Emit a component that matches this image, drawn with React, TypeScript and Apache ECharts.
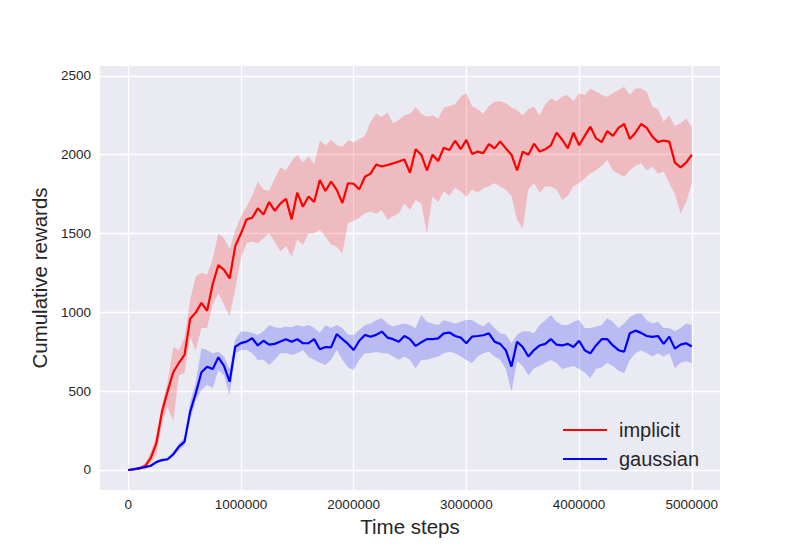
import React, { useEffect, useRef } from "react";
import * as echarts from "echarts";

const STEP = 50000;
const xTicks = [0, 1000000, 2000000, 3000000, 4000000, 5000000];
const yTicks = [0, 500, 1000, 1500, 2000, 2500];

const redMean = [
  0, 3, 10, 25, 75, 170, 370, 500, 620, 680,
  730, 960, 1000, 1060, 1010, 1180, 1300, 1270, 1215, 1420,
  1500, 1590, 1600, 1660, 1620, 1700, 1645, 1690, 1720, 1590,
  1760, 1670, 1735, 1700, 1840, 1770, 1830, 1777, 1694, 1819,
  1816, 1780, 1860, 1880, 1938, 1925, 1935, 1945, 1957, 1970,
  1885, 2035, 2000, 1900, 2000, 1960, 2045, 2030, 2089, 2035,
  2094, 2005, 2020, 2010, 2068, 2040, 2085, 2040, 2000, 1900,
  2020, 2000, 2070, 2020, 2035, 2060, 2140, 2095, 2040, 2140,
  2060, 2120, 2178, 2104, 2080, 2150, 2120, 2170, 2195, 2100,
  2140, 2195, 2170, 2115, 2080, 2090, 2083, 1950, 1920, 1950,
  2000,
];
const redHi = [
  0, 8, 20, 45, 110, 220, 410, 560, 780, 760,
  840, 1080, 1230, 1250, 1240, 1340, 1500, 1470, 1400, 1520,
  1610, 1670, 1740, 1830, 1780, 1770, 1850, 1920, 1900, 1960,
  2000, 1950, 1990, 1940, 2090, 2060, 2095, 2060, 2050, 2090,
  2080, 2100, 2120, 2210, 2260, 2240, 2270, 2200, 2220, 2250,
  2260, 2305, 2260, 2240, 2250, 2230, 2300, 2310, 2320, 2368,
  2390, 2310, 2290, 2260, 2310, 2336, 2340, 2326, 2300, 2284,
  2250, 2290, 2305, 2250, 2320, 2357, 2340, 2370, 2378, 2340,
  2390, 2380, 2421, 2400, 2380, 2368, 2390, 2410, 2432, 2380,
  2421, 2421, 2400, 2305, 2290, 2210, 2250, 2180, 2200, 2230,
  2178,
];
const redLo = [
  0, 0, 2, 8, 45, 100, 298, 400, 310, 600,
  615, 843, 760, 900, 900, 1050, 1121, 1050, 973, 1150,
  1343, 1439, 1450, 1439, 1470, 1502, 1450, 1386, 1420, 1354,
  1460, 1428, 1500, 1502, 1523, 1480, 1430, 1417, 1375, 1565,
  1580, 1600, 1628, 1640, 1628, 1650, 1586, 1610, 1628, 1690,
  1650, 1713, 1690, 1502, 1734, 1700, 1766, 1740, 1790, 1766,
  1734, 1780, 1760, 1787, 1800, 1819, 1798, 1777, 1740, 1586,
  1533, 1780, 1819, 1760, 1798, 1798, 1780, 1713, 1740, 1800,
  1819, 1850, 1883, 1900, 1930, 1967, 1900, 1880, 1861, 1900,
  1930, 1946, 1900, 1925, 1880, 1893, 1820, 1750, 1628, 1700,
  1819,
];
const blueMean = [
  0, 5, 12, 18, 27, 50, 63, 68, 100, 148,
  180, 370, 488, 620, 655, 640, 715, 660, 560, 782,
  805, 814, 836, 790, 820, 795, 800, 815, 830, 814,
  830, 804, 805, 830, 766, 780, 778, 862, 830, 800,
  761, 820, 857, 845, 857, 878, 840, 830, 814, 850,
  830, 787, 810, 830, 830, 835, 867, 872, 850, 840,
  804, 846, 850, 855, 867, 814, 800, 760, 656, 814,
  780, 720, 761, 790, 800, 830, 795, 790, 800, 780,
  820, 760, 740, 790, 830, 830, 790, 760, 750, 867,
  884, 870, 850, 845, 850, 800, 846, 770, 795, 804,
  783,
];
const blueHi = [
  0, 7, 15, 22, 33, 58, 72, 78, 115, 170,
  205, 430, 560, 772, 760, 740, 750, 720, 640, 830,
  878, 878, 870, 857, 880, 920, 905, 900, 910, 905,
  920, 910, 920, 900, 870, 920, 900, 920, 900, 860,
  857, 890, 920, 930, 950, 962, 930, 910, 920, 930,
  920, 900, 983, 940, 930, 920, 950, 940, 930, 940,
  952, 952, 930, 910, 940, 900, 867, 860, 804, 860,
  880, 880, 867, 920, 950, 983, 940, 920, 920, 940,
  952, 900, 900, 910, 920, 962, 940, 900, 930, 970,
  990, 994, 950, 930, 940, 900, 900, 880, 900, 930,
  920,
];
const blueLo = [
  0, 3, 9, 14, 21, 42, 54, 58, 85, 126,
  155, 320, 444, 508, 540, 518, 635, 600, 476, 740,
  761, 761, 740, 698, 700, 666, 700, 740, 740, 730,
  740, 761, 719, 700, 680, 666, 700, 761, 700, 650,
  635, 700, 740, 740, 750, 740, 740, 720, 700, 720,
  700, 645, 698, 700, 710, 720, 740, 750, 740, 720,
  698, 677, 720, 740, 750, 720, 700, 640, 497, 690,
  660, 600, 645, 660, 680, 698, 680, 640, 650, 660,
  640, 620, 582, 640, 650, 680, 660, 630, 613, 700,
  740, 760, 740, 720, 740, 720, 740, 645, 680, 690,
  677,
];

const steps = redMean.map((_, i) => i * STEP);
const pairs = (arr: number[]) => arr.map((v, i) => [steps[i], v]);

const TEXT = "#262626";
const FONT = "'Liberation Sans', Arial, sans-serif";

function bandSeries(name: string, lo: number[], hi: number[], color: string) {
  const data = steps.map((t, i) => [t, lo[i], hi[i]]);
  return {
    name,
    type: "custom",
    silent: true,
    clip: true,
    data,
    encode: { x: 0, y: [1, 2] },
    z: 1,
    renderItem: (params: any, api: any) => {
      if (params.dataIndex !== 0) return null;
      const upper = data.map((d) => api.coord([d[0], d[2]]));
      const lower = data.map((d) => api.coord([d[0], d[1]])).reverse();
      return {
        type: "polygon",
        shape: { points: upper.concat(lower) },
        style: { fill: color, stroke: "none" },
      };
    },
  };
}

export default function App() {
  const ref = useRef<HTMLDivElement>(null);
  useEffect(() => {
    document.body.style.margin = "0";
    const chart = echarts.init(ref.current!, null, { renderer: "svg" });
    chart.setOption({
      animation: false,
      backgroundColor: "#ffffff",
      textStyle: { fontFamily: FONT },
      grid: { left: 100, right: 80, top: 66, bottom: 60, show: true, backgroundColor: "#EAEAF2", borderWidth: 0 },
      xAxis: {
        type: "value",
        min: -250000,
        max: 5250000,
        name: "Time steps",
        nameLocation: "middle",
        nameGap: 24,
        nameTextStyle: { fontSize: 20.5, color: TEXT, verticalAlign: "top" },
        axisLine: { show: false },
        axisTick: { show: false, customValues: xTicks },
        axisLabel: { customValues: xTicks, fontSize: 13.5, color: TEXT, margin: 7, formatter: (v: number) => String(v) },
        splitLine: { show: true, lineStyle: { color: "#ffffff", width: 1.3 } },
      },
      yAxis: {
        type: "value",
        min: -127,
        max: 2563,
        name: "Cumulative rewards",
        nameLocation: "middle",
        nameGap: 48,
        nameTextStyle: { fontSize: 20.5, color: TEXT },
        axisLine: { show: false },
        axisTick: { show: false, customValues: yTicks },
        axisLabel: { customValues: yTicks, fontSize: 13.5, color: TEXT, margin: 9, formatter: (v: number) => String(v) },
        splitLine: { show: true, lineStyle: { color: "#ffffff", width: 1.3 } },
      },
      legend: {
        data: ["implicit", "gaussian"],
        orient: "vertical",
        left: 558,
        top: 415,
        itemWidth: 44,
        itemHeight: 2,
        itemGap: 9,
        icon: "rect",
        textStyle: { fontSize: 20, color: TEXT, padding: [0, 0, 0, 7], lineHeight: 20 },
      },
      series: [
        bandSeries("implicit_band", redLo, redHi, "rgba(255,0,0,0.2)"),
        bandSeries("gaussian_band", blueLo, blueHi, "rgba(0,0,255,0.2)"),
        { name: "implicit", type: "line", z: 3, data: pairs(redMean), symbol: "none", lineStyle: { color: "#ff0000", width: 2.2 }, itemStyle: { color: "#ff0000" } },
        { name: "gaussian", type: "line", z: 3, data: pairs(blueMean), symbol: "none", lineStyle: { color: "#0000ff", width: 2.2 }, itemStyle: { color: "#0000ff" } },
      ],
    });
    return () => chart.dispose();
  }, []);
  return <div ref={ref} style={{ width: 800, height: 550 }} />;
}
